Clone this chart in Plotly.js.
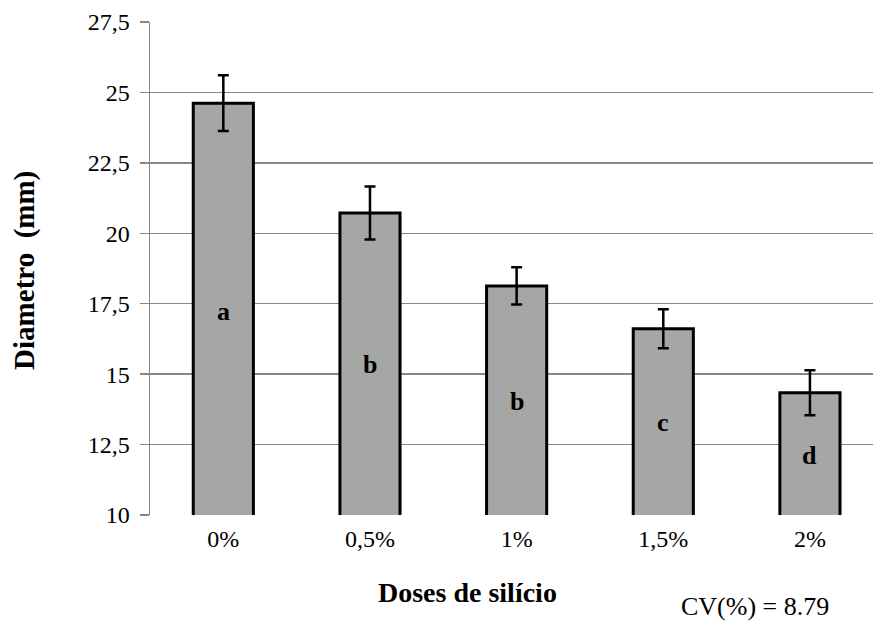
<!DOCTYPE html>
<html>
<head>
<meta charset="utf-8">
<script src="https://cdn.plot.ly/plotly-3.0.1.min.js"></script>
<style>html,body{margin:0;padding:0;background:#fff;}#chart{width:873px;height:621px;}</style>
</head>
<body>
<div id="chart"></div>
<script>
const categories = ["0%", "0,5%", "1%", "1,5%", "2%"];
const diameterMeans = [24.62, 20.72, 18.13, 16.61, 14.34];
const errorValues = [0.99, 0.94, 0.66, 0.69, 0.80];
const groupLetters = ["a", "b", "b", "c", "d"];
const letterPositions = [17.21, 15.33, 14.02, 13.28, 12.10];
const yTickValues = [10, 12.5, 15, 17.5, 20, 22.5, 25, 27.5];
const xAxisTitle = "Doses de silício";
const yAxisTitle = "Diametro  (mm)";
const cvNote = "CV(%) = 8.79";

const serif = "Liberation Serif";
const regular = "Liberation Serif, Liberation Sans";
const gridGray = "#878787";

const trace = {
  type: "bar",
  x: categories,
  y: diameterMeans,
  width: 0.41,
  marker: {color: "#a6a6a6", line: {color: "#000", width: 3}},
  error_y: {type: "data", array: errorValues, visible: true, color: "#000", thickness: 2.5, width: 5.5},
  hoverinfo: "skip"
};

const annotations = groupLetters.map((t, i) => ({
  x: categories[i], y: letterPositions[i], xref: "x", yref: "y",
  text: "<b>" + t + "</b>", showarrow: false,
  font: {family: serif, size: 26, color: "#000"},
  xanchor: "center", yanchor: "middle"
}));
annotations.push({
  x: 0.4385, y: -0.157, xref: "paper", yref: "paper",
  text: "<b>" + xAxisTitle + "</b>", showarrow: false,
  font: {family: serif, size: 28, color: "#000"},
  xanchor: "center", yanchor: "middle"
});
annotations.push({
  x: -0.173, y: 0.497, xref: "paper", yref: "paper",
  text: "<b>" + yAxisTitle + "</b>", showarrow: false, textangle: -90,
  font: {family: serif, size: 29, color: "#000"},
  xanchor: "center", yanchor: "middle"
});
annotations.push({
  x: 0.8368, y: -0.186, xref: "paper", yref: "paper",
  text: cvNote, showarrow: false,
  font: {family: regular, size: 26, color: "#000"},
  xanchor: "center", yanchor: "middle"
});

const layout = {
  width: 873, height: 621,
  margin: {l: 150, r: 0, t: 22, b: 106, pad: 0},
  paper_bgcolor: "#fff", plot_bgcolor: "#fff",
  separators: ",.",
  showlegend: false,
  font: {family: regular, size: 24, color: "#000"},
  xaxis: {
    type: "category",
    range: [-0.5, 4.43],
    showgrid: false, zeroline: false,
    showline: false,
    ticks: "",
    tickfont: {family: regular, size: 24, color: "#000"},
    ticklabelstandoff: 7,
    fixedrange: true
  },
  yaxis: {
    range: [10, 27.5],
    tickvals: yTickValues,
    showgrid: true, gridcolor: gridGray, gridwidth: 1.5,
    zeroline: false,
    showline: true, linecolor: gridGray, linewidth: 1.5,
    ticks: "outside", ticklen: 9, tickcolor: gridGray, tickwidth: 1.5,
    tickfont: {family: regular, size: 24, color: "#000"},
    ticklabelstandoff: 5,
    fixedrange: true
  },
  annotations: annotations
};

Plotly.newPlot("chart", [trace], layout, {displayModeBar: false, staticPlot: true});
</script>
</body>
</html>
